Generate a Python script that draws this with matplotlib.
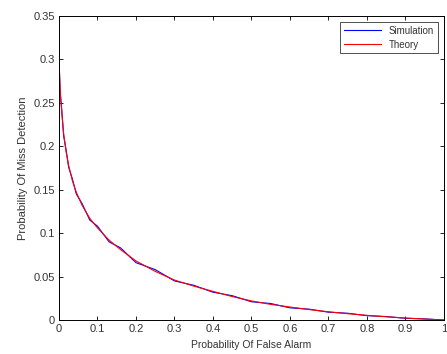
import matplotlib
matplotlib.use("Agg")
import matplotlib.pyplot as plt

pfa = [0.0, 0.003, 0.007, 0.012, 0.018, 0.025, 0.035, 0.045, 0.06, 0.08, 0.1, 0.13, 0.16, 0.2, 0.25, 0.3,
       0.35, 0.4, 0.45, 0.5, 0.55, 0.6, 0.65, 0.7, 0.75, 0.8, 0.85, 0.9, 0.95, 1.0]
pmd_theory = [0.30, 0.265, 0.24, 0.215, 0.195, 0.178, 0.16, 0.147, 0.132, 0.117, 0.106, 0.092, 0.081,
              0.068, 0.056, 0.046, 0.039, 0.033, 0.027, 0.022, 0.018, 0.015, 0.012, 0.0095, 0.0073,
              0.0054, 0.0037, 0.0023, 0.0011, 0.0]
pmd_sim = [0.30, 0.262, 0.243, 0.212, 0.197, 0.176, 0.162, 0.145, 0.134, 0.115, 0.108, 0.090, 0.083,
           0.066, 0.058, 0.045, 0.040, 0.032, 0.028, 0.021, 0.019, 0.014, 0.0125, 0.009, 0.0078,
           0.005, 0.004, 0.002, 0.0013, 0.0]

xticks = [0, 0.1, 0.2, 0.3, 0.4, 0.5, 0.6, 0.7, 0.8, 0.9, 1]
xticklabels = ["0", "0.1", "0.2", "0.3", "0.4", "0.5", "0.6", "0.7", "0.8", "0.9", "1"]
yticks = [0, 0.05, 0.1, 0.15, 0.2, 0.25, 0.3, 0.35]
yticklabels = ["0", "0.05", "0.1", "0.15", "0.2", "0.25", "0.3", "0.35"]

plt.rcParams['font.family'] = ['Liberation Sans', 'DejaVu Sans']
fig = plt.figure(figsize=(4.47, 3.54), dpi=100)
ax = fig.add_axes([0.132, 0.096, 0.861, 0.859])
ax.plot(pfa, pmd_sim, color=(0, 0, 1), lw=0.8, label="Simulation")
ax.plot(pfa, pmd_theory, color=(1, 0, 0), lw=0.8, label="Theory")
ax.set_xlim(0, 1)
ax.set_ylim(0, 0.35)
ax.set_xticks(xticks)
ax.set_xticklabels(xticklabels)
ax.set_yticks(yticks)
ax.set_yticklabels(yticklabels)
ax.tick_params(direction='in', top=True, right=True, labelsize=8, length=3, width=0.6, pad=3,
               labelcolor='#333333')
for s in ax.spines.values():
    s.set_linewidth(0.7)
ax.set_xlabel("Probability Of False Alarm", fontsize=7.5, labelpad=4, color='#333333')
ax.set_ylabel("Probability Of Miss Detection", fontsize=8, labelpad=4, color='#333333')
leg = ax.legend(loc='upper right', fontsize=7, frameon=True, fancybox=False, edgecolor='black',
                handlelength=3.8, borderaxespad=0.6, labelspacing=0.4)
leg.get_frame().set_linewidth(0.6)
for t in leg.get_texts():
    t.set_color('#333333')
fig.savefig("out.png", dpi=100)
